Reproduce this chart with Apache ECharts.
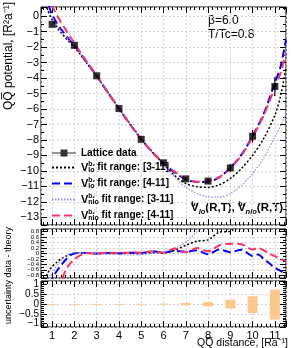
<!DOCTYPE html>
<html><head><meta charset="utf-8">
<script src="https://cdn.jsdelivr.net/npm/echarts@6/dist/echarts.min.js"></script>
<style>html,body{margin:0;padding:0;background:#fff}#c{width:292px;height:348px}</style>
</head><body><div id="c"></div>
<script>
// ---- data ----
const latticeX = [1, 2, 3, 4, 5, 6, 7, 8, 9, 10, 11];
const latticeY = [-0.52, -1.88, -3.85, -5.97, -7.96, -9.48, -10.52, -10.66, -9.81, -7.76, -4.54];
const latticeErr = [0.02, 0.02, 0.03, 0.04, 0.06, 0.08, 0.12, 0.16, 0.25, 0.4, 0.62];

const curveX = [0.6, 0.7, 0.8, 0.9, 1.0, 1.2, 1.4, 1.6, 1.8, 2, 2.5, 3, 3.5, 4, 4.5, 5, 5.5, 6, 6.5, 7, 7.5, 8, 8.5, 9, 9.5, 10, 10.5, 11, 11.25, 11.5];
const loFit3  = [1.3, 0.8, 0.4, 0.05, -0.22, -0.68, -1.05, -1.4, -1.7, -2.0, -2.93, -3.9, -4.92, -5.95, -6.95, -7.92, -8.78, -9.55, -10.3, -10.82, -11.02, -11.07, -10.9, -10.49, -9.85, -8.99, -7.9, -6.4, -5.2, -3.3];
const loFit4  = [2.2, 1.6, 0.95, 0.45, 0.1, -0.42, -0.85, -1.22, -1.57, -1.9, -2.87, -3.86, -4.93, -5.97, -7.0, -7.96, -8.8, -9.5, -10.1, -10.55, -10.72, -10.7, -10.42, -9.8, -8.95, -7.75, -6.3, -4.3, -3.3, -1.5];
const nloFit3 = [1.9, 1.2, 0.65, 0.25, -0.05, -0.55, -0.95, -1.3, -1.62, -1.92, -2.88, -3.87, -4.93, -5.98, -7.0, -7.98, -8.85, -9.65, -10.4, -11.05, -11.45, -11.68, -11.7, -11.46, -10.95, -10.17, -9.15, -7.8, -7.1, -6.3];
const nloFit4 = [3.0, 2.3, 1.7, 1.15, 0.7, 0.1, -0.4, -0.85, -1.3, -1.75, -2.82, -3.83, -4.91, -5.96, -6.98, -7.95, -8.78, -9.48, -10.05, -10.5, -10.7, -10.66, -10.4, -9.82, -9.0, -7.82, -6.4, -4.6, -3.7, -2.4];

const resX = [0.6, 0.8, 1.0, 1.2, 1.4, 1.6, 1.8, 2.0, 2.25, 2.5, 3, 3.5, 4, 4.5, 5, 5.5, 6, 6.5, 7, 7.5, 8, 8.5, 9, 9.5, 10, 10.25, 10.5, 10.75, 11, 11.25, 11.5];
const resLo3  = [-1.1, -0.72, -0.48, -0.33, -0.2, -0.11, -0.04, 0.02, 0.02, 0.01, 0, 0, 0, 0.01, 0, 0.03, 0.02, 0.12, 0.3, 0.45, 0.5, 0.78, 0.82, 1.1, 1.4, 1.5, 1.6, 1.7, 1.8, 1.9, 2.0];
const resLo4  = [-2.0, -1.4, -0.95, -0.65, -0.43, -0.24, -0.07, 0.0, 0.02, 0.02, 0, 0.02, 0.01, 0.03, 0.02, 0.08, 0.03, 0.1, 0.06, 0.12, -0.03, 0.15, 0.05, 0.14, -0.09, -0.04, -0.2, -0.36, -0.52, -0.64, -0.76];
const resNlo3 = [-2.0, -1.2, -0.74, -0.45, -0.25, -0.1, -0.01, 0.02, 0.02, 0.01, 0, -0.02, -0.04, -0.05, -0.04, 0.0, 0.06, 0.2, 0.42, 0.8, 1.2, 1.5, 1.7, 1.9, 2, 2, 2, 2, 2, 2, 2];
const resNlo4 = [-3.0, -2.5, -2.0, -1.5, -1.05, -0.62, -0.37, -0.22, -0.07, 0.01, 0, 0.03, 0.02, 0.04, 0.03, 0.08, 0.03, 0.18, 0.05, 0.2, 0.08, 0.3, 0.36, 0.34, 0.15, 0.2, 0.12, 0.0, -0.1, -0.2, -0.27];

const uncHi = [0.01, 0.01, 0.01, 0.01, 0.015, 0.02, 0.05, 0.1, 0.22, 0.39, 0.73];
const uncLo = [-0.01, -0.01, -0.01, -0.01, -0.015, -0.02, -0.06, -0.12, -0.23, -0.46, -0.79];

const legendNames = ['Lattice data', 'lo [3-11]', 'lo [4-11]', 'nlo [3-11]', 'nlo [4-11]'];
const legendOrder = ['', 'lo', 'lo', 'nlo', 'nlo'];
const legendRange = ['', '3-11', '4-11', '3-11', '4-11'];

// ---- chart ----
const FONT = 'Liberation Sans, Arial, Helvetica, sans-serif';
const M = s => String(s).replace('-', '\u2212');
const zip = (xs, ys) => xs.map((x, i) => [x, ys[i]]);

function xAx(grid, pos, showLabel, split) {
  return {type: 'value', gridIndex: grid, position: pos, min: 0.5, max: 11.5, splitNumber: 11,
    axisLine: {show: false, onZero: false},
    axisTick: {show: true, inside: true, length: 6, lineStyle: {color: '#000', width: 1}},
    minorTick: {show: true, splitNumber: 5, length: 3, lineStyle: {color: '#000', width: 1}},
    axisLabel: {show: showLabel, margin: 3, fontSize: 11, fontFamily: FONT, color: '#000',
      formatter: v => Number.isInteger(v) ? String(v) : ''},
    splitLine: {show: split, lineStyle: {color: '#d4d4d4', type: [2, 2], width: 1}}};
}
function yAx(grid, pos, min, max, splitNumber, showLabel, fs, lim, split, minorN) {
  return {type: 'value', gridIndex: grid, position: pos, min: min, max: max, splitNumber: splitNumber,
    axisLine: {show: false, onZero: false},
    axisTick: {show: true, inside: true, length: 6, lineStyle: {color: '#000', width: 1}},
    minorTick: {show: true, splitNumber: minorN, length: 3, lineStyle: {color: '#000', width: 1}},
    axisLabel: {show: showLabel, margin: 2, fontSize: fs, fontFamily: FONT, color: '#000',
      formatter: v => Math.abs(v) > lim ? '' : M(v)},
    splitLine: {show: split, lineStyle: {color: '#d4d4d4', type: [2, 2], width: 1}}};
}

const styles = [
  null,
  {color: '#000000', width: 1.5, type: [2, 2]},
  {color: '#0000ff', width: 2, type: [8, 4]},
  {color: '#8c8cff', width: 1.2, type: [1.5, 1.5]},
  {color: '#ff3366', width: 2, type: [8, 4]}
];
const mainData = [null, loFit3, loFit4, nloFit3, nloFit4];
const resData = [null, resLo3, resLo4, resNlo3, resNlo4];

const series = [];
for (let k = 1; k <= 4; k++) {
  series.push({type: 'line', name: legendNames[k], xAxisIndex: 0, yAxisIndex: 0,
    data: zip(curveX, mainData[k]), symbol: 'none', smooth: 0.3, clip: true,
    lineStyle: styles[k], itemStyle: {color: styles[k].color}, z: 3});
}
for (let k = 1; k <= 4; k++) {
  series.push({type: 'line', name: legendNames[k], xAxisIndex: 2, yAxisIndex: 2,
    data: zip(resX, resData[k]), symbol: 'none', smooth: 0.3, clip: true,
    lineStyle: styles[k], itemStyle: {color: styles[k].color}, z: 3});
}
series.push({type: 'custom', name: 'err', xAxisIndex: 0, yAxisIndex: 0, z: 4,
  data: latticeX.map((x, i) => [x, latticeY[i], latticeErr[i]]),
  encode: {x: 0, y: 1},
  renderItem: (p, api) => {
    const x = api.value(0), y = api.value(1), e = api.value(2);
    const a = api.coord([x, y - e]), b = api.coord([x, y + e]);
    return {type: 'line', shape: {x1: a[0], y1: a[1], x2: b[0], y2: b[1]}, style: {stroke: '#000', lineWidth: 1.2}};
  }});
series.push({type: 'scatter', name: 'Lattice data', xAxisIndex: 0, yAxisIndex: 0, z: 5,
  data: zip(latticeX, latticeY), symbol: 'rect', symbolSize: 7, itemStyle: {color: '#000'}});
series.push({type: 'custom', name: 'unc', xAxisIndex: 4, yAxisIndex: 4, z: 3,
  data: latticeX.map((x, i) => [x, uncHi[i], uncLo[i]]),
  encode: {x: 0, y: [1, 2]},
  renderItem: (p, api) => {
    const x = api.value(0), hi = api.value(1), lo = api.value(2);
    const w = api.size([0.45, 0])[0];
    const a = api.coord([x, hi]), b = api.coord([x, lo]);
    return {type: 'rect', shape: {x: a[0] - w / 2, y: a[1], width: w, height: Math.max(b[1] - a[1], 1)},
      style: {fill: '#fdc68c'}};
  }});

const rich = {
  b: {fontSize: 10, fontWeight: 'bold', fontFamily: FONT, color: '#000', lineHeight: 13},
  v: {fontSize: 11, fontWeight: 'bold', fontFamily: FONT, color: '#000', lineHeight: 13},
  sp: {fontSize: 6.5, fontWeight: 'bold', fontFamily: FONT, color: '#000', verticalAlign: 'top', width: 0, lineHeight: 6},
  sb: {fontSize: 7, fontWeight: 'bold', fontFamily: FONT, color: '#000', verticalAlign: 'bottom', lineHeight: 7},
  si: {fontSize: 7.5, fontWeight: 'bold', fontStyle: 'italic', fontFamily: FONT, color: '#000', verticalAlign: 'bottom', lineHeight: 7},
  vv: {fontSize: 11.5, fontWeight: 'bold', fontFamily: FONT, color: '#000', lineHeight: 15},
  spb: {fontSize: 7, fontWeight: 'bold', fontFamily: FONT, color: '#000', verticalAlign: 'top', width: 0, lineHeight: 7}
};

const option = {
  animation: false,
  backgroundColor: '#fff',
  grid: [
    {left: 41, top: 7, width: 245, height: 218, show: true, borderColor: '#000', borderWidth: 1, backgroundColor: 'transparent'},
    {left: 41, top: 229, width: 245, height: 49, show: true, borderColor: '#000', borderWidth: 1, backgroundColor: 'transparent'},
    {left: 41, top: 281, width: 245, height: 46, show: true, borderColor: '#000', borderWidth: 1, backgroundColor: 'transparent'}
  ],
  xAxis: [
    xAx(0, 'bottom', false, true), xAx(0, 'top', false, false),
    xAx(1, 'bottom', false, true), xAx(1, 'top', false, false),
    xAx(2, 'bottom', true, true), xAx(2, 'top', false, false)
  ],
  yAxis: [
    yAx(0, 'left', -13.5, 0.6, 14, true, 11, 13.2, true, 2), yAx(0, 'right', -13.5, 0.6, 14, false, 11, 13.2, false, 2),
    yAx(1, 'left', -0.9, 0.9, 9, true, 6, 0.85, true, 2), yAx(1, 'right', -0.9, 0.9, 9, false, 6, 0.85, false, 2),
    yAx(2, 'left', -1.17, 1.17, 5, true, 10, 1.05, true, 5), yAx(2, 'right', -1.17, 1.17, 5, false, 10, 1.05, false, 5)
  ],
  legend: {
    orient: 'vertical', left: 46, top: 143, itemWidth: 24, itemHeight: 10, itemGap: 3,
    selectedMode: false,
    data: legendNames.map((n, i) => i === 0
      ? {name: n, icon: 'path://M0,0H0.05V0.05H0Z M0,10H0.05V9.95H0Z M0,4.5H24V5.5H0Z M8.5,1.5H15.5V8.5H8.5Z'}
      : {name: n, itemStyle: {opacity: 0, color: 'rgba(0,0,0,0)', borderWidth: 0}}),
    formatter: name => {
      const i = legendNames.indexOf(name);
      if (i === 0) return '{b|Lattice data}';
      return '{v|V}{sp|b\u2082}{sb|' + legendOrder[i] + '}{b| fit range: [' + legendRange[i] + ']}';
    },
    textStyle: {rich: rich, fontFamily: FONT, fontSize: 10, fontWeight: 'bold', color: '#000'}
  },
  graphic: [
    {type: 'text', x: 208, y: 21, style: {text: '\u03b2=6.0', fontSize: 12, fontFamily: FONT, fill: '#000', verticalAlign: 'middle'}},
    {type: 'text', x: 208, y: 35, style: {text: 'T/Tc=0.8', fontSize: 12, fontFamily: FONT, fill: '#000', verticalAlign: 'middle'}},
    {type: 'text', x: 283, y: 208, style: {
      text: '{vv|V}{spb|b\u2082}{si|lo}{vv|(R,T), V}{spb|b\u2082}{si|nlo}{vv|(R,T)}',
      rich: rich, align: 'right', verticalAlign: 'middle'}},
    {type: 'text', x: 9, y: 2, rotation: Math.PI / 2, style: {
      text: 'QQ\u0305 potential, [R\u00b2a\u207b\u00b9]', fontSize: 12, fontFamily: FONT, fill: '#000',
      align: 'right', verticalAlign: 'middle'}},
    {type: 'text', x: 9, y: 324, rotation: Math.PI / 2, style: {
      text: 'uncertainty data - theory', fontSize: 9, fontFamily: FONT, fill: '#000',
      align: 'left', verticalAlign: 'middle'}},
    {type: 'text', x: 288, y: 343, style: {
      text: 'QQ\u0305 distance, [Ra\u207b\u00b9]', fontSize: 10.5, fontFamily: FONT, fill: '#000',
      align: 'right', verticalAlign: 'middle'}}
  ],
  series: series
};
const chart = echarts.init(document.getElementById('c'));
chart.setOption(option);
</script>
</body></html>
